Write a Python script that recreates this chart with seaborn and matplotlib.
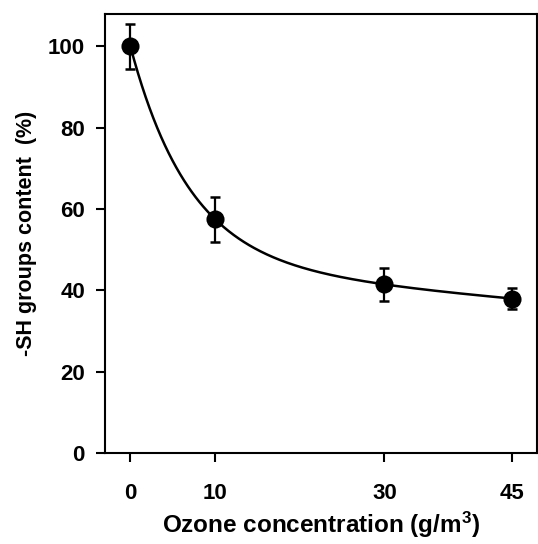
import numpy as np
import pandas as pd
import matplotlib
matplotlib.use("Agg")
import matplotlib.pyplot as plt
import seaborn as sns

# Measured -SH content after ozone exposure
ozone = [0, 10, 30, 45]
sh_content = [100.0, 57.5, 41.5, 38.0]
sh_err = [5.6, 5.5, 4.0, 2.5]
xtick_labels = ["0", "10", "30", "45"]
ytick_values = [0, 20, 40, 60, 80, 100]

df = pd.DataFrame({"ozone": ozone, "sh": sh_content, "err": sh_err})

# Least-squares fit of a two-phase exponential decay:
#   y = b1*exp(-k1*x) + b2*exp(-k2*x)
x = np.asarray(ozone, float)
y = np.asarray(sh_content, float)
best = None
for k1 in np.linspace(0.05, 0.5, 300):
    for k2 in np.linspace(0.0, 0.04, 200):
        A = np.column_stack([np.exp(-k1 * x), np.exp(-k2 * x)])
        coef, *_ = np.linalg.lstsq(A, y, rcond=None)
        if np.any(coef < 0):
            continue
        sse = np.sum((A @ coef - y) ** 2)
        if best is None or sse < best[0]:
            best = (sse, k1, k2, coef)
_, k1_fit, k2_fit, (b1_fit, b2_fit) = best
xs = np.linspace(0, 45, 300)
fit_df = pd.DataFrame({
    "ozone": xs,
    "sh": b1_fit * np.exp(-k1_fit * xs) + b2_fit * np.exp(-k2_fit * xs),
})

sns.set_style("ticks")
plt.rcParams["font.family"] = ["Liberation Sans", "DejaVu Sans"]
plt.rcParams["font.weight"] = "bold"
plt.rcParams["text.color"] = "black"
plt.rcParams["axes.labelcolor"] = "black"
plt.rcParams["mathtext.fontset"] = "custom"
plt.rcParams["mathtext.bf"] = "Liberation Sans:bold"

fig = plt.figure(figsize=(5.38, 5.44), dpi=100)
ax = fig.add_axes([0.1952, 0.1673, 0.8028, 0.807])

sns.lineplot(data=fit_df, x="ozone", y="sh", color="black", linewidth=1.8, ax=ax)
ax.errorbar(df["ozone"], df["sh"], yerr=df["err"], fmt="none", ecolor="black",
            elinewidth=1.6, capsize=3.8, capthick=1.8, zorder=3)
sns.scatterplot(data=df, x="ozone", y="sh", color="black", s=170, marker="o",
                edgecolor="black", linewidth=0, zorder=4, ax=ax)

ax.set_xlim(-3, 48)
ax.set_ylim(0, 108)
ax.set_xticks(ozone)
ax.set_xticklabels(xtick_labels)
ax.set_yticks(ytick_values)

for side in ["left", "right", "top", "bottom"]:
    ax.spines[side].set_visible(True)
    ax.spines[side].set_linewidth(1.5)
    ax.spines[side].set_color("black")

ax.tick_params(axis="both", direction="out", length=6.5, width=1.5,
               labelsize=16, colors="black")
ax.tick_params(axis="y", pad=8)
ax.tick_params(axis="x", pad=15)
for lab in ax.get_xticklabels() + ax.get_yticklabels():
    lab.set_fontweight("bold")

ax.set_xlabel("Ozone concentration (g/m$\\mathbf{^{3}}$)", fontsize=17.5,
              fontweight="bold", labelpad=4, color="black")
ax.set_ylabel("-SH groups content  (%)", fontsize=15.5, fontweight="bold",
              labelpad=8, color="black")

fig.savefig("out.png", dpi=100)
